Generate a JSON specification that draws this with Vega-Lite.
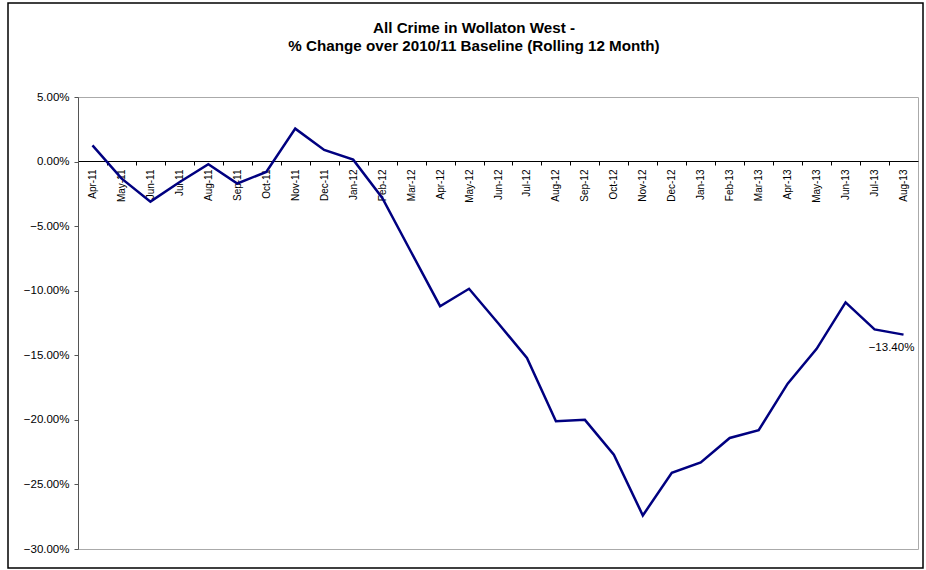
{
  "$schema": "https://vega.github.io/schema/vega-lite/v6.json",
  "autosize": "none",
  "width": 840,
  "height": 452,
  "padding": {"left": 78, "top": 97, "right": 8, "bottom": 21},
  "background": "white",
  "title": {
    "text": ["All Crime in Wollaton West -", "% Change over 2010/11 Baseline (Rolling 12 Month)"],
    "font": "Liberation Sans",
    "fontSize": 15.2,
    "fontWeight": "bold",
    "color": "#000000",
    "anchor": "middle",
    "frame": "group",
    "baseline": "alphabetic",
    "dx": -24,
    "lineHeight": 18,
    "offset": -64
  },
  "data": {
    "values": [
      {"month": "Apr-11", "pct": 0.0125},
      {"month": "May-11", "pct": -0.013},
      {"month": "Jun-11", "pct": -0.031},
      {"month": "Jul-11", "pct": -0.016},
      {"month": "Aug-11", "pct": -0.002},
      {"month": "Sep-11", "pct": -0.017},
      {"month": "Oct-11", "pct": -0.008},
      {"month": "Nov-11", "pct": 0.0255},
      {"month": "Dec-11", "pct": 0.009},
      {"month": "Jan-12", "pct": 0.0015},
      {"month": "Feb-12", "pct": -0.028},
      {"month": "Mar-12", "pct": -0.070},
      {"month": "Apr-12", "pct": -0.112},
      {"month": "May-12", "pct": -0.0985},
      {"month": "Jun-12", "pct": -0.125},
      {"month": "Jul-12", "pct": -0.152},
      {"month": "Aug-12", "pct": -0.201},
      {"month": "Sep-12", "pct": -0.200},
      {"month": "Oct-12", "pct": -0.227},
      {"month": "Nov-12", "pct": -0.274},
      {"month": "Dec-12", "pct": -0.241},
      {"month": "Jan-13", "pct": -0.233},
      {"month": "Feb-13", "pct": -0.214},
      {"month": "Mar-13", "pct": -0.208},
      {"month": "Apr-13", "pct": -0.172},
      {"month": "May-13", "pct": -0.145},
      {"month": "Jun-13", "pct": -0.109},
      {"month": "Jul-13", "pct": -0.130},
      {"month": "Aug-13", "pct": -0.134}
    ]
  },
  "encoding": {
    "x": {
      "field": "month",
      "type": "ordinal",
      "sort": null,
      "bandPosition": 0.5,
      "scale": {"type": "band", "paddingInner": 0, "paddingOuter": 0},
      "axis": {
        "title": null,
        "offset": -388,
        "domainColor": "#000000",
        "domainWidth": 1,
        "tickColor": "#000000",
        "tickSize": 4,
        "tickOffset": -14.5,
        "labelOffset": 14.5,
        "labelAngle": 270,
        "labelAlign": "right",
        "labelBaseline": "middle",
        "labelPadding": 4,
        "labelFont": "Liberation Sans",
        "labelFontSize": 10,
        "labelColor": "#000000",
        "labelOverlap": false,
        "grid": false
      }
    },
    "y": {
      "field": "pct",
      "type": "quantitative",
      "scale": {"domain": [-0.30, 0.05], "nice": false, "zero": false},
      "axis": {
        "title": null,
        "values": [0.05, 0, -0.05, -0.10, -0.15, -0.20, -0.25, -0.30],
        "format": ".2%",
        "grid": false,
        "domainColor": "#555555",
        "domainWidth": 1,
        "tickColor": "#555555",
        "tickSize": 4,
        "labelFont": "Liberation Sans",
        "labelFontSize": 11.5,
        "labelColor": "#000000",
        "labelPadding": 5
      }
    }
  },
  "layer": [
    {
      "mark": {"type": "rect", "fill": null, "stroke": "#000000", "strokeWidth": 1.5, "clip": false},
      "data": {"values": [{"frame": 1}]},
      "encoding": {
        "x": {"value": -70},
        "x2": {"value": 845},
        "y": {"value": -94},
        "y2": {"value": 471}
      }
    },
    {
      "mark": {"type": "line", "color": "#000080", "strokeWidth": 2.5}
    },
    {
      "transform": [{"filter": "datum.month === 'Aug-13'"}],
      "mark": {"type": "text", "font": "Liberation Sans", "fontSize": 11.5, "color": "#000000", "align": "center", "baseline": "middle", "dx": -12, "dy": 13},
      "encoding": {
        "text": {"field": "pct", "type": "quantitative", "format": ".2%"}
      }
    }
  ],
  "config": {
    "view": {"stroke": "#aaaaaa", "strokeWidth": 1}
  }
}
